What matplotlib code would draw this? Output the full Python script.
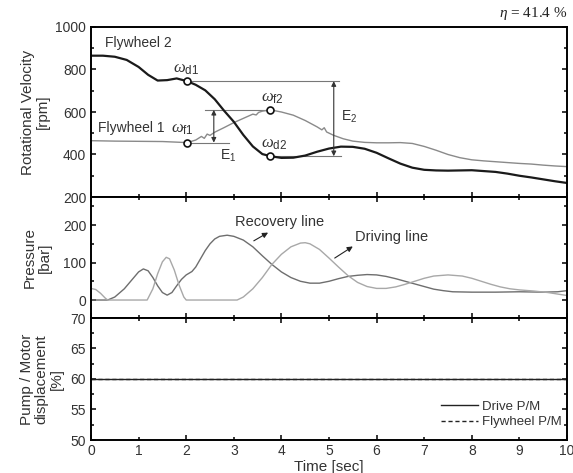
import matplotlib
matplotlib.use("Agg")
import matplotlib.pyplot as plt
from matplotlib.ticker import MultipleLocator

plt.rcParams['font.family'] = ['Liberation Sans', 'DejaVu Sans']
plt.rcParams['mathtext.fontset'] = 'custom'
plt.rcParams['mathtext.rm'] = 'Liberation Sans'
plt.rcParams['mathtext.it'] = 'Liberation Serif:italic'
plt.rcParams['mathtext.bf'] = 'Liberation Sans:bold'

# ---------------- data ----------------
fw2_t = [0, 0.25, 0.5, 0.75, 1.0, 1.2, 1.4, 1.6, 1.8, 2.02, 2.2, 2.4, 2.6, 2.8, 3.0, 3.2, 3.4, 3.6,
         3.77, 4.0, 4.25, 4.5, 4.75, 5.0, 5.25, 5.5, 5.75, 6.0, 6.25, 6.5, 6.75, 7.0, 7.25, 7.5,
         7.75, 8.0, 8.25, 8.5, 8.75, 9.0, 9.25, 9.5, 9.75, 10.0]
fw2_rpm = [865, 865, 860, 845, 812, 775, 748, 750, 758, 745, 728, 702, 660, 605, 554, 492, 438, 402,
           392, 384, 385, 395, 413, 428, 437, 436, 427, 408, 382, 357, 338, 328, 325, 324,
           325, 326, 322, 318, 310, 300, 292, 283, 274, 266]

fw1_t = [0, 0.5, 1.0, 1.5, 2.02, 2.2, 2.32, 2.38, 2.44, 2.5, 2.6, 2.8, 3.0, 3.2, 3.4, 3.47, 3.52,
         3.6, 3.77, 4.0, 4.25, 4.5, 4.75, 4.85, 4.9, 4.95, 5.1, 5.3, 5.5, 5.75, 6.0, 6.25, 6.5,
         6.75, 7.0, 7.25, 7.5, 7.75, 8.0, 8.25, 8.5, 8.75, 9.0, 9.25, 9.5, 9.75, 10.0]
fw1_rpm = [465, 463, 462, 461, 456, 468, 485, 476, 496, 490, 505, 527, 550, 570, 590, 586, 598,
           604, 610, 600, 585, 560, 530, 516, 526, 506, 490, 474, 463, 457, 455, 455, 456,
           452, 438, 420, 400, 385, 375, 370, 366, 362, 358, 355, 350, 346, 343]

rec_t = [0, 0.35, 0.5, 0.7, 0.9, 1.0, 1.1, 1.2, 1.3, 1.4, 1.5, 1.6, 1.7, 1.8, 1.9, 2.0, 2.12, 2.2,
         2.3, 2.4, 2.5, 2.6, 2.7, 2.86, 3.0, 3.2, 3.4, 3.6, 3.8, 4.0, 4.2, 4.4, 4.6, 4.8, 5.0,
         5.2, 5.4, 5.6, 5.8, 6.0, 6.2, 6.4, 6.6, 6.8, 7.0, 7.2, 7.4, 7.6, 8.0, 8.5, 9.0, 9.5,
         9.8, 10.0]
rec_bar = [0, 0, 8, 30, 60, 75, 83, 78, 60, 38, 20, 13, 20, 38, 55, 67, 76, 88,
           110, 132, 150, 163, 170, 173, 170, 160, 142, 118, 95, 75, 60, 50, 45, 45, 50,
           57, 63, 66, 68, 67, 63, 57, 50, 43, 36, 29, 25, 22, 21, 21, 22, 21,
           22, 25]

drv_t = [0, 0.1, 0.2, 0.3, 0.35, 1.18, 1.3, 1.4, 1.5, 1.58, 1.65, 1.75, 1.85, 1.95, 2.0, 3.07,
         3.2, 3.4, 3.6, 3.8, 4.0, 4.2, 4.4, 4.5, 4.6, 4.8, 5.0, 5.2, 5.4, 5.6, 5.8, 6.0, 6.2,
         6.4, 6.6, 6.8, 7.0, 7.2, 7.5, 7.8, 8.0, 8.2, 8.4, 8.6, 8.8, 9.0, 9.3, 9.6, 10.0]
drv_bar = [31, 28, 18, 5, 0, 0, 30, 70, 102, 114, 110, 80, 40, 8, 0, 0,
           8, 30, 60, 95, 122, 142, 152, 153, 150, 135, 112, 88, 65, 47, 36, 31, 31,
           35, 42, 50, 58, 64, 67, 64, 58, 50, 42, 35, 30, 27, 24, 20, 12]

disp_t = [0, 10]
drive_pm = [60, 60]
flywheel_pm = [60, 60]

# marker points
om_t = [2.02, 2.02, 3.77, 3.77]
om_rpm = [745, 456, 610, 392]

# ---------------- figure ----------------
W, H = 573, 473
fig = plt.figure(figsize=(W / 100, H / 100), dpi=100)

def ax_at(top, bottom, left=91, right=567):
    return fig.add_axes([left / W, (H - bottom) / H, (right - left) / W, (bottom - top) / H])

ax1 = ax_at(27, 197)
ax2 = ax_at(197, 318)
ax3 = ax_at(318, 440)

tc = '#333333'
for ax in (ax1, ax2, ax3):
    ax.set_xlim(0, 10)
    for s in ax.spines.values():
        s.set_linewidth(1.4)
    ax.xaxis.set_major_locator(MultipleLocator(2))
    ax.xaxis.set_minor_locator(MultipleLocator(1))
    ax.tick_params(which='both', direction='in', right=True, top=(ax is not ax1),
                   width=1.1, colors='black', labelcolor=tc, labelsize=10)
    ax.tick_params(which='major', length=3.5)
    ax.tick_params(which='minor', length=2.2)
    if ax is not ax3:
        ax.tick_params(which='both', labelbottom=False)

# x tick labels on bottom axis (major even, minor odd)
ax3.set_xticks([0, 2, 4, 6, 8, 10])
ax3.set_xticklabels(['0', '2', '4', '6', '8', '10'])
ax3.set_xticks([1, 3, 5, 7, 9], minor=True)
ax3.set_xticklabels(['1', '3', '5', '7', '9'], minor=True)
ax3.tick_params(axis='x', which='both', labelsize=10, labelcolor=tc, pad=3)

# ---- top panel ----
ax1.set_ylim(200, 1000)
ax1.yaxis.set_major_locator(MultipleLocator(200))
ax1.yaxis.set_minor_locator(MultipleLocator(100))
ax1.plot(fw1_t, fw1_rpm, color='#8a8a8a', lw=1.0)
ax1.plot(fw2_t, fw2_rpm, color='#1a1a1a', lw=1.6)
ax1.plot(om_t, om_rpm, 'o', ms=5, mfc='white', mec='#111111', mew=1.2, zorder=5)

gl = dict(color='#777777', lw=0.8)
ax1.plot([2.02, 5.22], [745, 745], **gl, zorder=1)
ax1.plot([3.77, 5.25], [392, 392], **gl, zorder=1)
ax1.plot([2.02, 2.89], [456, 456], **gl, zorder=1)
ax1.plot([2.40, 3.77], [610, 610], **gl, zorder=1)
arr = dict(arrowstyle='<|-|>', color='#333333', lw=0.8, mutation_scale=7, shrinkA=0, shrinkB=0)
ax1.annotate('', xy=(2.58, 610), xytext=(2.58, 456), arrowprops=arr)
ax1.annotate('', xy=(5.1, 745), xytext=(5.1, 392), arrowprops=arr)

ax1.text(0.3, 925, 'Flywheel 2', fontsize=10, color=tc, va='center')
ax1.text(0.15, 527, 'Flywheel 1', fontsize=10, color=tc, va='center')
ax1.text(1.72, 800, r'$\omega_{\rm d1}$', fontsize=12, color=tc, va='center')
ax1.text(1.68, 520, r'$\omega_{\rm f1}$', fontsize=12, color=tc, va='center')
ax1.text(3.58, 665, r'$\omega_{\rm f2}$', fontsize=12, color=tc, va='center')
ax1.text(3.58, 445, r'$\omega_{\rm d2}$', fontsize=12, color=tc, va='center')
ax1.text(2.72, 395, r'E$_{\rm 1}$', fontsize=10, color=tc, va='center')
ax1.text(5.25, 575, r'E$_{\rm 2}$', fontsize=10, color=tc, va='center')
ax1.set_ylabel('Rotational Velocity\n[rpm]', fontsize=11, color=tc, linespacing=1.1)
fig.text(567 / W, 1 - 14 / H, r'$\eta$ = 41.4 %', fontsize=11, ha='right', va='center',
         color='#222222', family='Liberation Serif')

# ---- middle panel ----
ax2.set_ylim(-48, 275)
ax2.set_yticks([0, 100, 200])
ax2.yaxis.set_minor_locator(MultipleLocator(50))
ax2.plot(rec_t, rec_bar, color='#6e6e6e', lw=1.0)
ax2.plot(drv_t, drv_bar, color='#a8a8a8', lw=1.0)
arr2 = dict(arrowstyle='-|>', color='#222222', lw=0.8, mutation_scale=8, shrinkA=0, shrinkB=0)
ax2.annotate('', xy=(3.72, 180), xytext=(3.42, 158), arrowprops=arr2)
ax2.text(3.02, 208, 'Recovery line', fontsize=10.5, color=tc, va='center')
ax2.annotate('', xy=(5.5, 143), xytext=(5.12, 112), arrowprops=arr2)
ax2.text(5.55, 168, 'Driving line', fontsize=10.5, color=tc, va='center')
ax2.set_ylabel('Pressure\n[bar]', fontsize=11, color=tc, linespacing=1.1)

# ---- bottom panel ----
ax3.set_ylim(50, 70)
ax3.yaxis.set_major_locator(MultipleLocator(5))
ax3.yaxis.set_minor_locator(MultipleLocator(2.5))
ax3.plot(disp_t, drive_pm, color='#222222', lw=1.0, ls='-', label='Drive P/M')
ax3.plot(disp_t, flywheel_pm, color='#222222', lw=1.0, ls=(0, (3, 2)), label='Flywheel P/M')
leg = ax3.legend(loc='lower right', frameon=False, fontsize=9.5, handlelength=2.8,
                 handletextpad=0.3, borderaxespad=0.2, labelspacing=0.25,
                 bbox_to_anchor=(1.005, 0.03))
for t in leg.get_texts():
    t.set_color(tc)
ax3.set_ylabel('Pump / Motor\ndisplacement\n[%]', fontsize=11, color=tc, linespacing=1.1)
ax3.set_xlabel('Time [sec]', fontsize=11, color=tc, labelpad=1)

ax1.yaxis.set_label_coords(-0.086, 0.5)
ax2.yaxis.set_label_coords(-0.082, 0.5)
ax3.yaxis.set_label_coords(-0.057, 0.5)

fig.savefig('out.png', dpi=100)
